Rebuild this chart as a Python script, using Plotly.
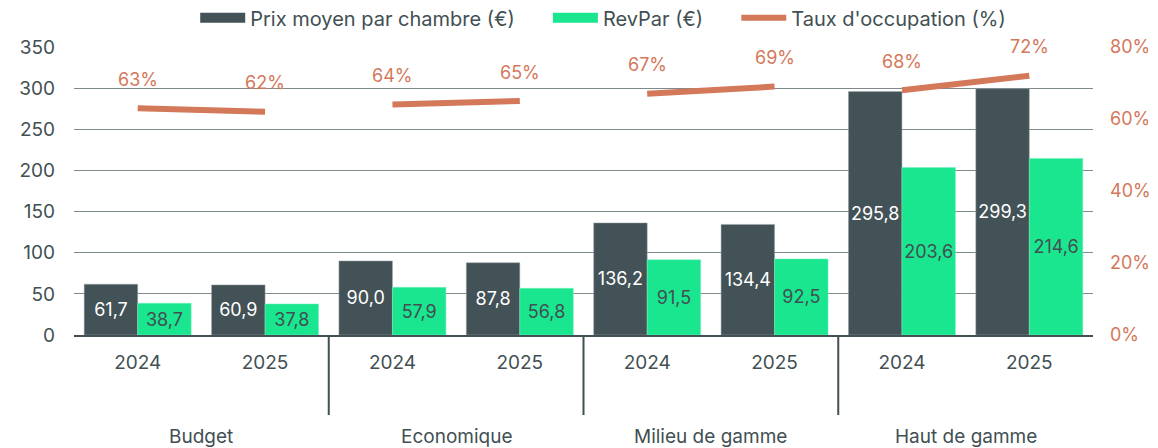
import plotly.graph_objects as go
from plotly.subplots import make_subplots

segments = ["Budget", "Budget", "Economique", "Economique",
            "Milieu de gamme", "Milieu de gamme", "Haut de gamme", "Haut de gamme"]
years = ["2024", "2025"] * 4
prix_moyen = [61.7, 60.9, 90.0, 87.8, 136.2, 134.4, 295.8, 299.3]
revpar = [38.7, 37.8, 57.9, 56.8, 91.5, 92.5, 203.6, 214.6]
occupation = [63, 62, 64, 65, 67, 69, 68, 72]

DARK = "#435256"
GREEN = "#19E68E"
ORANGE = "#D4785A"
TEXT = "#424F53"
FONT = "Inter"
PAD = "\u00a0" * 5

# one x slot per (segment, year) pair; ticks show only the year
x_keys = [f"{s} {y}" for s, y in zip(segments, years)]

fig = make_subplots(specs=[[{"secondary_y": True}]])

fig.add_trace(go.Bar(
    x=x_keys, y=prix_moyen,
    name="Prix moyen par chambre (€)", showlegend=False,
    marker=dict(color=DARK, line=dict(color="#9aa4a6", width=0.5)),
    texttemplate="%{y:.1f}", textposition="inside", insidetextanchor="middle",
    textfont=dict(color="white", size=18, family=FONT), textangle=0,
    constraintext="none",
), secondary_y=False)

fig.add_trace(go.Bar(
    x=x_keys, y=revpar,
    name="RevPar (€)", showlegend=False,
    marker=dict(color=GREEN, line=dict(color="#7ff0c0", width=0.5)),
    texttemplate="%{y:.1f}", textposition="inside", insidetextanchor="middle",
    textfont=dict(color=TEXT, size=18, family=FONT), textangle=0,
    constraintext="none",
), secondary_y=False)

# one line segment per hotel category
for i in range(0, len(segments), 2):
    fig.add_trace(go.Scatter(
        x=x_keys[i:i + 2], y=occupation[i:i + 2],
        mode="lines",
        line=dict(color=ORANGE, width=6),
        showlegend=False, hoverinfo="skip",
    ), secondary_y=True)

# legend entries drawn as wide strokes like the original
for name, color, width in [("Prix moyen par chambre (€)" + PAD, DARK, 13),
                           ("RevPar (€)" + PAD, GREEN, 13),
                           ("Taux d'occupation (%)", ORANGE, 6)]:
    fig.add_trace(go.Scatter(
        x=[None], y=[None], mode="lines", name=name,
        line=dict(color=color, width=width),
    ))

for i, v in enumerate(occupation):
    fig.add_annotation(
        x=x_keys[i], y=v, xref="x", yref="y2",
        text=f"{v}%", showarrow=False, yshift=29,
        font=dict(color=ORANGE, size=18, family=FONT),
    )

# group labels and dividers below the year ticks
groups = list(dict.fromkeys(segments))
for g in groups:
    idx = [i for i, s in enumerate(segments) if s == g]
    fig.add_annotation(
        x=sum(idx) / len(idx), y=-0.354, xref="x", yref="paper",
        text=g, showarrow=False, yanchor="middle",
        font=dict(color=TEXT, size=19, family=FONT),
    )
    if idx[0] > 0:
        fig.add_shape(
            type="line", xref="x", yref="paper",
            x0=idx[0] - 0.5, x1=idx[0] - 0.5, y0=0, y1=-0.278,
            line=dict(color=TEXT, width=2),
        )

# the page sits 8px in from the window corner, margins account for it
fig.update_layout(
    width=1158, height=448,
    margin=dict(l=66, r=73, t=39, b=121, autoexpand=False),
    barmode="group", bargap=0.16, bargroupgap=0,
    separators=", ",
    plot_bgcolor="white", paper_bgcolor="white",
    font=dict(family=FONT, size=19, color=TEXT),
    legend=dict(orientation="h", xref="container", yref="container",
                x=0.514, xanchor="center", y=0.978, yanchor="middle",
                font=dict(size=20, color=TEXT), itemwidth=45, traceorder="normal"),
    showlegend=True,
)

fig.update_xaxes(
    type="category", tickvals=x_keys, ticktext=years, domain=[0, 1],
    showline=True, linecolor=TEXT, linewidth=2,
    tickfont=dict(size=19, color=TEXT), ticks="", ticklabelstandoff=9,
    automargin=False,
)
fig.update_yaxes(
    range=[0, 350], dtick=50, showgrid=True, gridcolor="#7f8a8c", gridwidth=1,
    zeroline=False, tickfont=dict(size=19, color=TEXT), ticklabelstandoff=18,
    automargin=False, secondary_y=False,
)
fig.update_yaxes(
    range=[0, 80], dtick=20, ticksuffix="%", showgrid=False, zeroline=False,
    tickfont=dict(size=18, color=ORANGE), ticklabelstandoff=16,
    automargin=False, secondary_y=True,
)

fig.write_html("out.html")
